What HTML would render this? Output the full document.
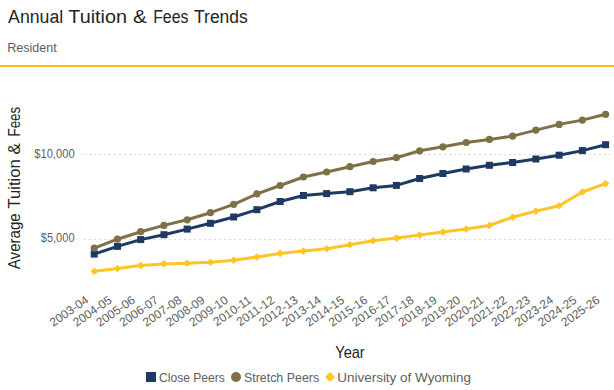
<!DOCTYPE html>
<html><head><meta charset="utf-8"><style>
html,body{margin:0;padding:0;background:#fff;width:614px;height:390px;overflow:hidden}
svg{display:block}
text{font-family:"Liberation Sans",sans-serif}
</style></head><body>
<svg width="614" height="390" viewBox="0 0 614 390">
<g font-size="18" fill="#252423">
<text x="8.1" y="22.8"  textLength="55.17" lengthAdjust="spacingAndGlyphs">Annual</text>
<text x="68.29" y="22.8"  textLength="58.67" lengthAdjust="spacingAndGlyphs">Tuition</text>
<text x="132.98" y="22.8"  textLength="13.82" lengthAdjust="spacingAndGlyphs">&amp;</text>
<text x="153.18" y="22.8"  textLength="35.3" lengthAdjust="spacingAndGlyphs">Fees</text>
<text x="194.04" y="22.8"  textLength="53.78" lengthAdjust="spacingAndGlyphs">Trends</text>
</g>
<text x="7.15" y="51.8" font-size="12" fill="#605e5c" textLength="49.68" lengthAdjust="spacingAndGlyphs">Resident</text>
<rect x="0" y="65" width="614" height="2" fill="#ffbb10"/>
<line x1="84" y1="154.5" x2="612" y2="154.5" stroke="#dddbd9" stroke-width="1" stroke-dasharray="2 3"/>
<line x1="84" y1="239.5" x2="612" y2="239.5" stroke="#dddbd9" stroke-width="1" stroke-dasharray="2 3"/>
<text x="34.18" y="157.6" font-size="12" fill="#605e5c" textLength="40.5" lengthAdjust="spacingAndGlyphs">$10,000</text>
<text x="40.79" y="242.3" font-size="12" fill="#605e5c" textLength="33.73" lengthAdjust="spacingAndGlyphs">$5,000</text>
<g font-size="16" fill="#252423">
<text transform="translate(19.7,269.20) rotate(-90)" textLength="55.95" lengthAdjust="spacingAndGlyphs">Average</text>
<text transform="translate(19.7,208.49) rotate(-90)" textLength="49.19" lengthAdjust="spacingAndGlyphs">Tuition</text>
<text transform="translate(19.7,154.47) rotate(-90)" textLength="11.38" lengthAdjust="spacingAndGlyphs">&amp;</text>
<text transform="translate(19.7,136.55) rotate(-90)" textLength="29.84" lengthAdjust="spacingAndGlyphs">Fees</text>
</g>
<g font-size="12" fill="#605e5c">
<text transform="translate(89.40,301.8) rotate(-35)" text-anchor="end">2003-04</text>
<text transform="translate(112.65,301.8) rotate(-35)" text-anchor="end">2004-05</text>
<text transform="translate(135.89,301.8) rotate(-35)" text-anchor="end">2005-06</text>
<text transform="translate(159.14,301.8) rotate(-35)" text-anchor="end">2006-07</text>
<text transform="translate(182.38,301.8) rotate(-35)" text-anchor="end">2007-08</text>
<text transform="translate(205.63,301.8) rotate(-35)" text-anchor="end">2008-09</text>
<text transform="translate(228.87,301.8) rotate(-35)" text-anchor="end">2009-10</text>
<text transform="translate(252.12,301.8) rotate(-35)" text-anchor="end">2010-11</text>
<text transform="translate(275.36,301.8) rotate(-35)" text-anchor="end">2011-12</text>
<text transform="translate(298.61,301.8) rotate(-35)" text-anchor="end">2012-13</text>
<text transform="translate(321.85,301.8) rotate(-35)" text-anchor="end">2013-14</text>
<text transform="translate(345.10,301.8) rotate(-35)" text-anchor="end">2014-15</text>
<text transform="translate(368.35,301.8) rotate(-35)" text-anchor="end">2015-16</text>
<text transform="translate(391.59,301.8) rotate(-35)" text-anchor="end">2016-17</text>
<text transform="translate(414.84,301.8) rotate(-35)" text-anchor="end">2017-18</text>
<text transform="translate(438.08,301.8) rotate(-35)" text-anchor="end">2018-19</text>
<text transform="translate(461.33,301.8) rotate(-35)" text-anchor="end">2019-20</text>
<text transform="translate(484.57,301.8) rotate(-35)" text-anchor="end">2020-21</text>
<text transform="translate(507.82,301.8) rotate(-35)" text-anchor="end">2021-22</text>
<text transform="translate(531.06,301.8) rotate(-35)" text-anchor="end">2022-23</text>
<text transform="translate(554.31,301.8) rotate(-35)" text-anchor="end">2023-24</text>
<text transform="translate(577.55,301.8) rotate(-35)" text-anchor="end">2024-25</text>
<text transform="translate(600.80,301.8) rotate(-35)" text-anchor="end">2025-26</text>
</g>
<text x="335.26" y="357.8" font-size="15.9" fill="#252423" textLength="29.46" lengthAdjust="spacingAndGlyphs">Year</text>
<polyline points="94.20,254.10 117.45,246.40 140.69,239.60 163.94,234.70 187.18,229.10 210.43,223.30 233.67,217.00 256.92,209.70 280.16,201.50 303.41,195.50 326.65,193.60 349.90,191.70 373.15,187.80 396.39,185.40 419.64,178.50 442.88,173.50 466.13,169.00 489.37,165.30 512.62,162.50 535.86,159.00 559.11,155.20 582.35,150.60 605.60,144.70" fill="none" stroke="#1c3a62" stroke-width="3" stroke-linejoin="round"/>
<polyline points="94.20,248.20 117.45,239.20 140.69,231.70 163.94,225.40 187.18,219.80 210.43,212.70 233.67,204.30 256.92,193.90 280.16,185.50 303.41,177.00 326.65,172.00 349.90,166.70 373.15,161.50 396.39,157.70 419.64,150.80 442.88,146.80 466.13,142.50 489.37,139.40 512.62,136.10 535.86,130.10 559.11,124.40 582.35,120.10 605.60,114.30" fill="none" stroke="#7f7047" stroke-width="3" stroke-linejoin="round"/>
<polyline points="94.20,271.20 117.45,268.50 140.69,265.60 163.94,263.90 187.18,263.20 210.43,262.20 233.67,260.20 256.92,257.00 280.16,253.40 303.41,251.10 326.65,248.80 349.90,244.80 373.15,240.70 396.39,238.10 419.64,235.10 442.88,232.10 466.13,229.00 489.37,225.50 512.62,217.20 535.86,211.10 559.11,205.80 582.35,192.00 605.60,183.60" fill="none" stroke="#ffc425" stroke-width="3" stroke-linejoin="round"/>
<rect x="90.70" y="250.60" width="7" height="7" fill="#1c3a62"/>
<rect x="113.95" y="242.90" width="7" height="7" fill="#1c3a62"/>
<rect x="137.19" y="236.10" width="7" height="7" fill="#1c3a62"/>
<rect x="160.44" y="231.20" width="7" height="7" fill="#1c3a62"/>
<rect x="183.68" y="225.60" width="7" height="7" fill="#1c3a62"/>
<rect x="206.93" y="219.80" width="7" height="7" fill="#1c3a62"/>
<rect x="230.17" y="213.50" width="7" height="7" fill="#1c3a62"/>
<rect x="253.42" y="206.20" width="7" height="7" fill="#1c3a62"/>
<rect x="276.66" y="198.00" width="7" height="7" fill="#1c3a62"/>
<rect x="299.91" y="192.00" width="7" height="7" fill="#1c3a62"/>
<rect x="323.15" y="190.10" width="7" height="7" fill="#1c3a62"/>
<rect x="346.40" y="188.20" width="7" height="7" fill="#1c3a62"/>
<rect x="369.65" y="184.30" width="7" height="7" fill="#1c3a62"/>
<rect x="392.89" y="181.90" width="7" height="7" fill="#1c3a62"/>
<rect x="416.14" y="175.00" width="7" height="7" fill="#1c3a62"/>
<rect x="439.38" y="170.00" width="7" height="7" fill="#1c3a62"/>
<rect x="462.63" y="165.50" width="7" height="7" fill="#1c3a62"/>
<rect x="485.87" y="161.80" width="7" height="7" fill="#1c3a62"/>
<rect x="509.12" y="159.00" width="7" height="7" fill="#1c3a62"/>
<rect x="532.36" y="155.50" width="7" height="7" fill="#1c3a62"/>
<rect x="555.61" y="151.70" width="7" height="7" fill="#1c3a62"/>
<rect x="578.85" y="147.10" width="7" height="7" fill="#1c3a62"/>
<rect x="602.10" y="141.20" width="7" height="7" fill="#1c3a62"/>
<circle cx="94.20" cy="248.20" r="3.6" fill="#7f7047"/>
<circle cx="117.45" cy="239.20" r="3.6" fill="#7f7047"/>
<circle cx="140.69" cy="231.70" r="3.6" fill="#7f7047"/>
<circle cx="163.94" cy="225.40" r="3.6" fill="#7f7047"/>
<circle cx="187.18" cy="219.80" r="3.6" fill="#7f7047"/>
<circle cx="210.43" cy="212.70" r="3.6" fill="#7f7047"/>
<circle cx="233.67" cy="204.30" r="3.6" fill="#7f7047"/>
<circle cx="256.92" cy="193.90" r="3.6" fill="#7f7047"/>
<circle cx="280.16" cy="185.50" r="3.6" fill="#7f7047"/>
<circle cx="303.41" cy="177.00" r="3.6" fill="#7f7047"/>
<circle cx="326.65" cy="172.00" r="3.6" fill="#7f7047"/>
<circle cx="349.90" cy="166.70" r="3.6" fill="#7f7047"/>
<circle cx="373.15" cy="161.50" r="3.6" fill="#7f7047"/>
<circle cx="396.39" cy="157.70" r="3.6" fill="#7f7047"/>
<circle cx="419.64" cy="150.80" r="3.6" fill="#7f7047"/>
<circle cx="442.88" cy="146.80" r="3.6" fill="#7f7047"/>
<circle cx="466.13" cy="142.50" r="3.6" fill="#7f7047"/>
<circle cx="489.37" cy="139.40" r="3.6" fill="#7f7047"/>
<circle cx="512.62" cy="136.10" r="3.6" fill="#7f7047"/>
<circle cx="535.86" cy="130.10" r="3.6" fill="#7f7047"/>
<circle cx="559.11" cy="124.40" r="3.6" fill="#7f7047"/>
<circle cx="582.35" cy="120.10" r="3.6" fill="#7f7047"/>
<circle cx="605.60" cy="114.30" r="3.6" fill="#7f7047"/>
<path d="M94.20 267.40L98.00 271.20L94.20 275.00L90.40 271.20Z" fill="#ffc425"/>
<path d="M117.45 264.70L121.25 268.50L117.45 272.30L113.65 268.50Z" fill="#ffc425"/>
<path d="M140.69 261.80L144.49 265.60L140.69 269.40L136.89 265.60Z" fill="#ffc425"/>
<path d="M163.94 260.10L167.74 263.90L163.94 267.70L160.14 263.90Z" fill="#ffc425"/>
<path d="M187.18 259.40L190.98 263.20L187.18 267.00L183.38 263.20Z" fill="#ffc425"/>
<path d="M210.43 258.40L214.23 262.20L210.43 266.00L206.63 262.20Z" fill="#ffc425"/>
<path d="M233.67 256.40L237.47 260.20L233.67 264.00L229.87 260.20Z" fill="#ffc425"/>
<path d="M256.92 253.20L260.72 257.00L256.92 260.80L253.12 257.00Z" fill="#ffc425"/>
<path d="M280.16 249.60L283.96 253.40L280.16 257.20L276.36 253.40Z" fill="#ffc425"/>
<path d="M303.41 247.30L307.21 251.10L303.41 254.90L299.61 251.10Z" fill="#ffc425"/>
<path d="M326.65 245.00L330.45 248.80L326.65 252.60L322.85 248.80Z" fill="#ffc425"/>
<path d="M349.90 241.00L353.70 244.80L349.90 248.60L346.10 244.80Z" fill="#ffc425"/>
<path d="M373.15 236.90L376.95 240.70L373.15 244.50L369.35 240.70Z" fill="#ffc425"/>
<path d="M396.39 234.30L400.19 238.10L396.39 241.90L392.59 238.10Z" fill="#ffc425"/>
<path d="M419.64 231.30L423.44 235.10L419.64 238.90L415.84 235.10Z" fill="#ffc425"/>
<path d="M442.88 228.30L446.68 232.10L442.88 235.90L439.08 232.10Z" fill="#ffc425"/>
<path d="M466.13 225.20L469.93 229.00L466.13 232.80L462.33 229.00Z" fill="#ffc425"/>
<path d="M489.37 221.70L493.17 225.50L489.37 229.30L485.57 225.50Z" fill="#ffc425"/>
<path d="M512.62 213.40L516.42 217.20L512.62 221.00L508.82 217.20Z" fill="#ffc425"/>
<path d="M535.86 207.30L539.66 211.10L535.86 214.90L532.06 211.10Z" fill="#ffc425"/>
<path d="M559.11 202.00L562.91 205.80L559.11 209.60L555.31 205.80Z" fill="#ffc425"/>
<path d="M582.35 188.20L586.15 192.00L582.35 195.80L578.55 192.00Z" fill="#ffc425"/>
<path d="M605.60 179.80L609.40 183.60L605.60 187.40L601.80 183.60Z" fill="#ffc425"/>
<rect x="146" y="372" width="10" height="10" fill="#1c3a62"/>
<text x="159.02" y="381.7" font-size="13" fill="#605e5c" textLength="65.79" lengthAdjust="spacingAndGlyphs">Close Peers</text>
<circle cx="236" cy="377" r="5" fill="#7f7047"/>
<text x="243.9" y="381.7" font-size="13" fill="#605e5c" textLength="75.29" lengthAdjust="spacingAndGlyphs">Stretch Peers</text>
<path d="M330 372L335 377L330 382L325 377Z" fill="#ffc425"/>
<text x="337.26" y="381.7" font-size="13" fill="#605e5c" textLength="133.79" lengthAdjust="spacingAndGlyphs">University of Wyoming</text>
</svg>
</body></html>
